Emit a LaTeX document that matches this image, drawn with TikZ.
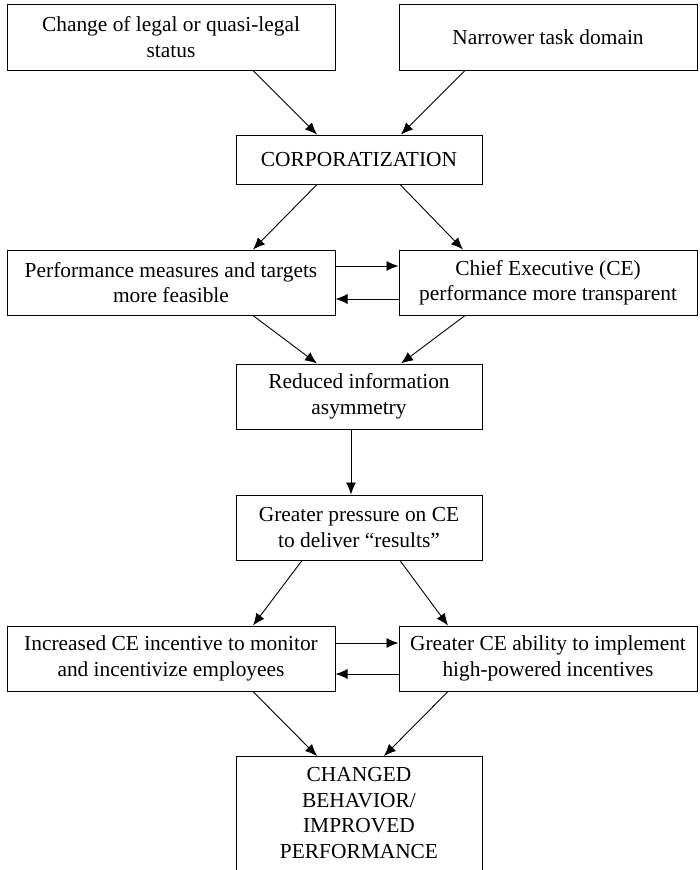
\documentclass[tikz,border=0pt]{standalone}
\usepackage{fontspec}
\setmainfont{Liberation Serif}
\usetikzlibrary{arrows.meta}

\begin{document}
\begin{tikzpicture}[x=1pt,y=-1pt,
  box/.style={draw, line width=1pt, align=center, inner sep=0pt,
    font=\fontsize{21.4}{25.5}\selectfont},
  wide/.style={box, minimum width=328pt, minimum height=65pt},
  narrow/.style={box, minimum width=298pt, minimum height=65pt},
  mid/.style={box, minimum width=246pt, minimum height=65pt},
  tip/.tip={Latex[length=12pt,width=10pt]},
  arr/.style={-tip, line width=0.9pt}]
  \clip (0,0) rectangle (699,870);
  % top row
  \node[wide, minimum height=66pt] (legal) at (171,37) {Change of legal or quasi-legal\\status};
  \node[narrow, minimum height=66pt] (task) at (548,37) {Narrower task domain};
  \node[mid, minimum height=49pt] (corp) at (359,159.5) {CORPORATIZATION};
  % measures and transparency
  \node[wide] (perf) at (171,282.5) {Performance measures and targets\\more feasible};
  \node[narrow] (chief) at (548,282.5) {Chief Executive (CE)\\performance more transparent};
  \node[mid] (reduced) at (359,396.5) {Reduced information\\asymmetry};
  \node[mid] (press) at (359,527.5) {Greater pressure on CE\\to deliver ``results''};
  % incentives
  \node[wide] (incent) at (171,658.5) {Increased CE incentive to monitor\\and incentivize employees};
  \node[narrow] (able) at (548,658.5) {Greater CE ability to implement\\high-powered incentives};
  \node[box, anchor=north, minimum width=246pt, inner ysep=11pt, text depth=150pt]
    (changed) at (359,756) {CHANGED\\BEHAVIOR/\\IMPROVED\\PERFORMANCE};

  \draw[arr] ([xshift=82pt]legal.south) -- ([xshift=-42pt]corp.north);
  \draw[arr] ([xshift=-83pt]task.south) -- ([xshift=42pt]corp.north);
  \draw[arr] ([xshift=-42pt]corp.south) -- ([xshift=82pt]perf.north);
  \draw[arr] ([xshift=41pt]corp.south) -- ([xshift=-85pt]chief.north);
  \draw[arr] ([yshift=16.5pt]perf.east) -- ([yshift=16.5pt]chief.west);
  \draw[arr] ([yshift=-16.5pt]chief.west) -- ([yshift=-16.5pt]perf.east);
  \draw[arr] ([xshift=82pt]perf.south) -- ([xshift=-42pt]reduced.north);
  \draw[arr] ([xshift=-83pt]chief.south) -- ([xshift=42pt]reduced.north);
  \draw[arr] ([xshift=-8pt]reduced.south) -- ([xshift=-8pt]press.north);
  \draw[arr] ([xshift=-57pt]press.south) -- ([xshift=82pt]incent.north);
  \draw[arr] ([xshift=41pt]press.south) -- ([xshift=-100pt]able.north);
  \draw[arr] ([yshift=15.5pt]incent.east) -- ([yshift=15.5pt]able.west);
  \draw[arr] ([yshift=-15.5pt]able.west) -- ([yshift=-15.5pt]incent.east);
  \draw[arr] ([xshift=82pt]incent.south) -- ([xshift=-42pt]changed.north);
  \draw[arr] ([xshift=-100pt]able.south) -- ([xshift=25pt]changed.north);
\end{tikzpicture}
\end{document}
